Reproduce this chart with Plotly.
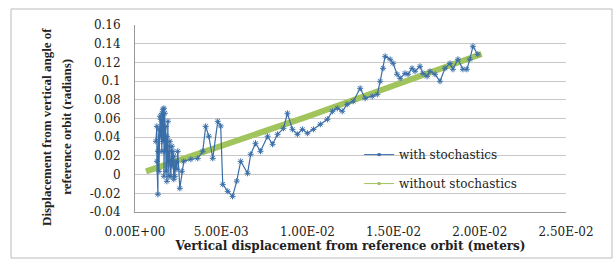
import plotly.graph_objects as go

# Blue series: with stochastics
with_x = [0.00121, 0.00127, 0.00127, 0.00133, 0.00133, 0.00139, 0.00139, 0.00145, 0.00150, 0.00150,
          0.00156, 0.00156, 0.00162, 0.00162, 0.00168, 0.00168, 0.00173, 0.00173, 0.00179, 0.00179,
          0.00185, 0.00185, 0.00191, 0.00191, 0.00197, 0.00197, 0.00202, 0.00202, 0.00208, 0.00214,
          0.00214, 0.00220, 0.00220, 0.00225, 0.00225, 0.00231, 0.00237, 0.00243, 0.00248, 0.00260,
          0.00272, 0.00283, 0.00324, 0.00364, 0.00393,
          0.00410, 0.00428, 0.00451, 0.00480, 0.00497, 0.00509, 0.00538, 0.00566, 0.00590, 0.00613,
          0.00653, 0.00671, 0.00699, 0.00728, 0.00769, 0.00798, 0.00827, 0.00861, 0.00884, 0.00913,
          0.00942, 0.00971, 0.01000, 0.01035, 0.01075, 0.01116, 0.01145, 0.01173, 0.01202, 0.01231,
          0.01266, 0.01306, 0.01335, 0.01376, 0.01405, 0.01422, 0.01439, 0.01451, 0.01480, 0.01497,
          0.01520, 0.01538, 0.01566, 0.01584, 0.01607, 0.01624, 0.01653, 0.01670, 0.01694, 0.01711,
          0.01740, 0.01769, 0.01798, 0.01827, 0.01844, 0.01873, 0.01902, 0.01925, 0.01942, 0.01960,
          0.01988]
with_y = [0.0356, 0.0516, 0.0142, -0.0211, 0.0249, 0.0484, 0.0035, 0.0624, 0.0409, 0.0591,
          0.0249, 0.0656, 0.0698, 0.0356, 0.0709, -0.0018, 0.0656, 0.0249, 0.0516, 0.0035,
          0.0409, -0.0072, 0.0570, 0.0303, -0.0018, 0.0142, 0.0356, 0.0249, -0.0018, 0.0303,
          0.0142, 0.0089, 0.0249, -0.0050, 0.0196, -0.0018, 0.0142, 0.0057, 0.0249, -0.0147,
          0.0035, 0.0142, 0.0164, 0.0174, 0.0250,
          0.0516, 0.0410, 0.0174, 0.0570, 0.0520, -0.0104, -0.0179, -0.0233, -0.0070, 0.0142,
          0.0014, 0.0217, 0.0335, 0.0249, 0.0410, 0.0324, 0.0431, 0.0495, 0.0656, 0.0484,
          0.0431, 0.0484, 0.0442, 0.0484, 0.0538, 0.0591, 0.0677, 0.0709, 0.0677, 0.0752,
          0.0784, 0.0923, 0.0816, 0.0837, 0.0858, 0.0998, 0.1137, 0.1265, 0.1233, 0.1190,
          0.1073, 0.1030, 0.1083, 0.1073, 0.1137, 0.1105, 0.1158, 0.1083, 0.1051, 0.1105,
          0.1073, 0.0998, 0.1137, 0.1190, 0.1126, 0.1233, 0.1126, 0.1126, 0.1233, 0.1372,
          0.1287]

# Green series: without stochastics
without_x = [0.00064, 0.0100, 0.0201]
without_y = [0.0035, 0.0620, 0.1290]

y_ticks = [-0.04, -0.02, 0, 0.02, 0.04, 0.06, 0.08, 0.1, 0.12, 0.14, 0.16]
y_tick_text = ["-0.04", "-0.02", "0", "0.02", "0.04", "0.06", "0.08", "0.1", "0.12", "0.14", "0.16"]
x_ticks = [0, 0.005, 0.01, 0.015, 0.02, 0.025]
x_tick_text = ["0.00E+00", "5.00E-03", "1.00E-02", "1.50E-02", "2.00E-02", "2.50E-02"]

y_title_lines = ["Displacement from vertical angle of", "reference orbit (radians)"]
x_title = "Vertical displacement from reference orbit (meters)"

BLUE = "#3a6ea8"
GREEN = "#a2c45c"
SERIF = "DejaVu Serif"
TXT = "#222"

fig = go.Figure()
fig.add_trace(go.Scatter(x=without_x, y=without_y, mode="lines",
                         line=dict(color=GREEN, width=6), showlegend=False))
fig.add_trace(go.Scatter(x=with_x, y=with_y, mode="lines+markers",
                         line=dict(color=BLUE, width=1.2),
                         marker=dict(symbol="asterisk-open", size=5, color=BLUE,
                                     line=dict(color=BLUE, width=1)),
                         showlegend=False))
# legend entries
fig.add_trace(go.Scatter(x=[None], y=[None], mode="lines+markers", name="with stochastics",
                         line=dict(color=BLUE, width=1),
                         marker=dict(symbol="square", size=3, color=BLUE), legend="legend"))
fig.add_trace(go.Scatter(x=[None], y=[None], mode="lines+markers", name="without stochastics",
                         line=dict(color=GREEN, width=1),
                         marker=dict(symbol="square", size=3, color=GREEN), legend="legend2"))

annotations = [
    dict(text="<b>%s</b>" % y_title_lines[0], xref="paper", yref="paper", x=-0.204, y=0.455,
         textangle=-90, showarrow=False, xanchor="center", yanchor="middle",
         font=dict(family="Liberation Serif", size=13, color=TXT)),
    dict(text="<b>%s</b>" % y_title_lines[1], xref="paper", yref="paper", x=-0.158, y=0.455,
         textangle=-90, showarrow=False, xanchor="center", yanchor="middle",
         font=dict(family="Liberation Serif", size=13, color=TXT)),
]

fig.update_layout(
    width=616, height=264,
    margin=dict(l=135, r=50, t=25, b=52),
    paper_bgcolor="white", plot_bgcolor="white",
    font=dict(family=SERIF, size=12, color=TXT),
    legend=dict(x=0.52, y=0.307, xanchor="left", yanchor="middle",
                bgcolor="rgba(0,0,0,0)", font=dict(family=SERIF, size=12, color=TXT),
                itemwidth=30),
    legend2=dict(x=0.52, y=0.152, xanchor="left", yanchor="middle",
                 bgcolor="rgba(0,0,0,0)", font=dict(family=SERIF, size=12, color=TXT),
                 itemwidth=30),
    xaxis=dict(range=[0, 0.025], tickvals=x_ticks, ticktext=x_tick_text, automargin=False,
               showgrid=False, zeroline=False, showline=True, linecolor="#999",
               linewidth=1, ticks="", ticklabelstandoff=9,
               tickfont=dict(family=SERIF, size=12, color=TXT),
               title=dict(text="<b>%s</b>" % x_title,
                          font=dict(family=SERIF, size=12, color=TXT), standoff=2)),
    yaxis=dict(range=[-0.04, 0.16], tickvals=y_ticks, ticktext=y_tick_text, automargin=False,
               showgrid=True, gridcolor="#c8c8c8", gridwidth=1,
               zeroline=False, showline=True, linecolor="#999", linewidth=1,
               ticks="", ticklabelstandoff=11,
               tickfont=dict(family=SERIF, size=12, color=TXT)),
    annotations=annotations,
    shapes=[dict(type="rect", xref="paper", yref="paper",
                 x0=-0.2877, x1=1.1067, y0=-0.246, y1=1.0856,
                 line=dict(color="#bbb", width=1), fillcolor="rgba(0,0,0,0)", layer="below")],
)
fig.write_html("out.html", config={"displayModeBar": False})

# remove the default page margin so the figure sits at the window origin
with open("out.html", encoding="utf-8") as f:
    html = f.read()
html = html.replace("<head>", "<head><style>html,body{margin:0;padding:0;overflow:hidden}</style>", 1)
with open("out.html", "w", encoding="utf-8") as f:
    f.write(html)
